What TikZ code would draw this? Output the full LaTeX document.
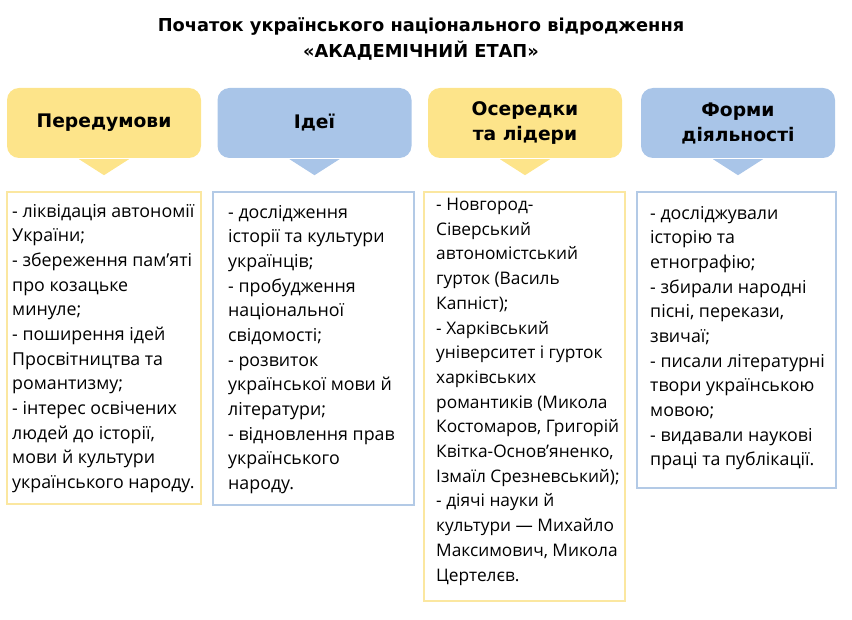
\documentclass[tikz,border=0pt]{standalone}
\usepackage{fontspec}
\setmainfont{Open Sans}
\newfontfamily\titlefont{DejaVu Sans}
\newfontfamily\headfont{DejaVu Sans}
\definecolor{hy}{HTML}{FDE48A}
\definecolor{hb}{HTML}{A9C5E8}
\definecolor{by}{HTML}{FBE7A0}
\definecolor{bb}{HTML}{B3CAE6}
\tikzset{
  head/.style={rounded corners=12pt, minimum width=194pt, minimum height=70pt, inner sep=0pt,
    font=\headfont\bfseries\fontsize{18.7}{25}\selectfont, align=center, text=black},
  cbox/.style={line width=2pt, inner sep=0pt},
  ctext/.style={anchor=north west, inner sep=0pt, align=left, font=\fontsize{17.8}{24.65}\selectfont, text=black},
}
\begin{document}
\begin{tikzpicture}[x=1pt,y=-1pt]
\useasboundingbox (0,0) rectangle (852,620);
\node[font=\titlefont\bfseries\fontsize{17.8}{26}\selectfont, align=center] (title) at (421,39)
  {Початок українського національного відродження\\«АКАДЕМІЧНИЙ ЕТАП»};
% headers
\node[head, fill=hy] (h1) at (104,123) {Передумови};
\node[head, fill=hb] (h2) at (314.5,123) {Ідеї};
\node[head, fill=hy] (h3) at (525,123) {Осередки\\та лідери};
\node[head, fill=hb] (h4) at (738,123) {Форми\\діяльності};
\foreach \h/\c in {h1/hy,h2/hb,h3/hy,h4/hb}{
  \fill[\c] ([xshift=-25pt,yshift=-1pt]\h.south) -- ([xshift=25pt,yshift=-1pt]\h.south) -- ([yshift=-17pt]\h.south) -- cycle;
}
% content boxes
\draw[cbox, draw=by] (7,192) rectangle (201,504);
\draw[cbox, draw=bb] (213,192) rectangle (414,505);
\draw[cbox, draw=by] (424,192) rectangle (625,601);
\draw[cbox, draw=bb] (637,192) rectangle (836,488);
\node[ctext] (t1) at (12,204) {- ліквідація автономії\\України;\\- збереження пам’яті\\про козацьке\\минуле;\\- поширення ідей\\Просвітництва та\\романтизму;\\- інтерес освічених\\людей до історії,\\мови й культури\\українського народу.};
\node[ctext] (t2) at (228,205) {- дослідження\\історії та культури\\українців;\\- пробудження\\національної\\свідомості;\\- розвиток\\української мови й\\літератури;\\- відновлення прав\\українського\\народу.};
\node[ctext, font=\fontsize{17.3}{24.7}\selectfont] (t3) at (436,198) {- Новгород-\\Сіверський\\автономістський\\гурток (Василь\\Капніст);\\- Харківський\\університет і гурток\\харківських\\романтиків (Микола\\Костомаров, Григорій\\Квітка-Основ’яненко,\\Ізмаїл Срезневський);\\- діячі науки й\\культури — Михайло\\Максимович, Микола\\Цертелєв.};
\node[ctext] (t4) at (650,206) {- досліджували\\історію та\\етнографію;\\- збирали народні\\пісні, перекази,\\звичаї;\\- писали літературні\\твори українською\\мовою;\\- видавали наукові\\праці та публікації.};
\end{tikzpicture}
\end{document}
